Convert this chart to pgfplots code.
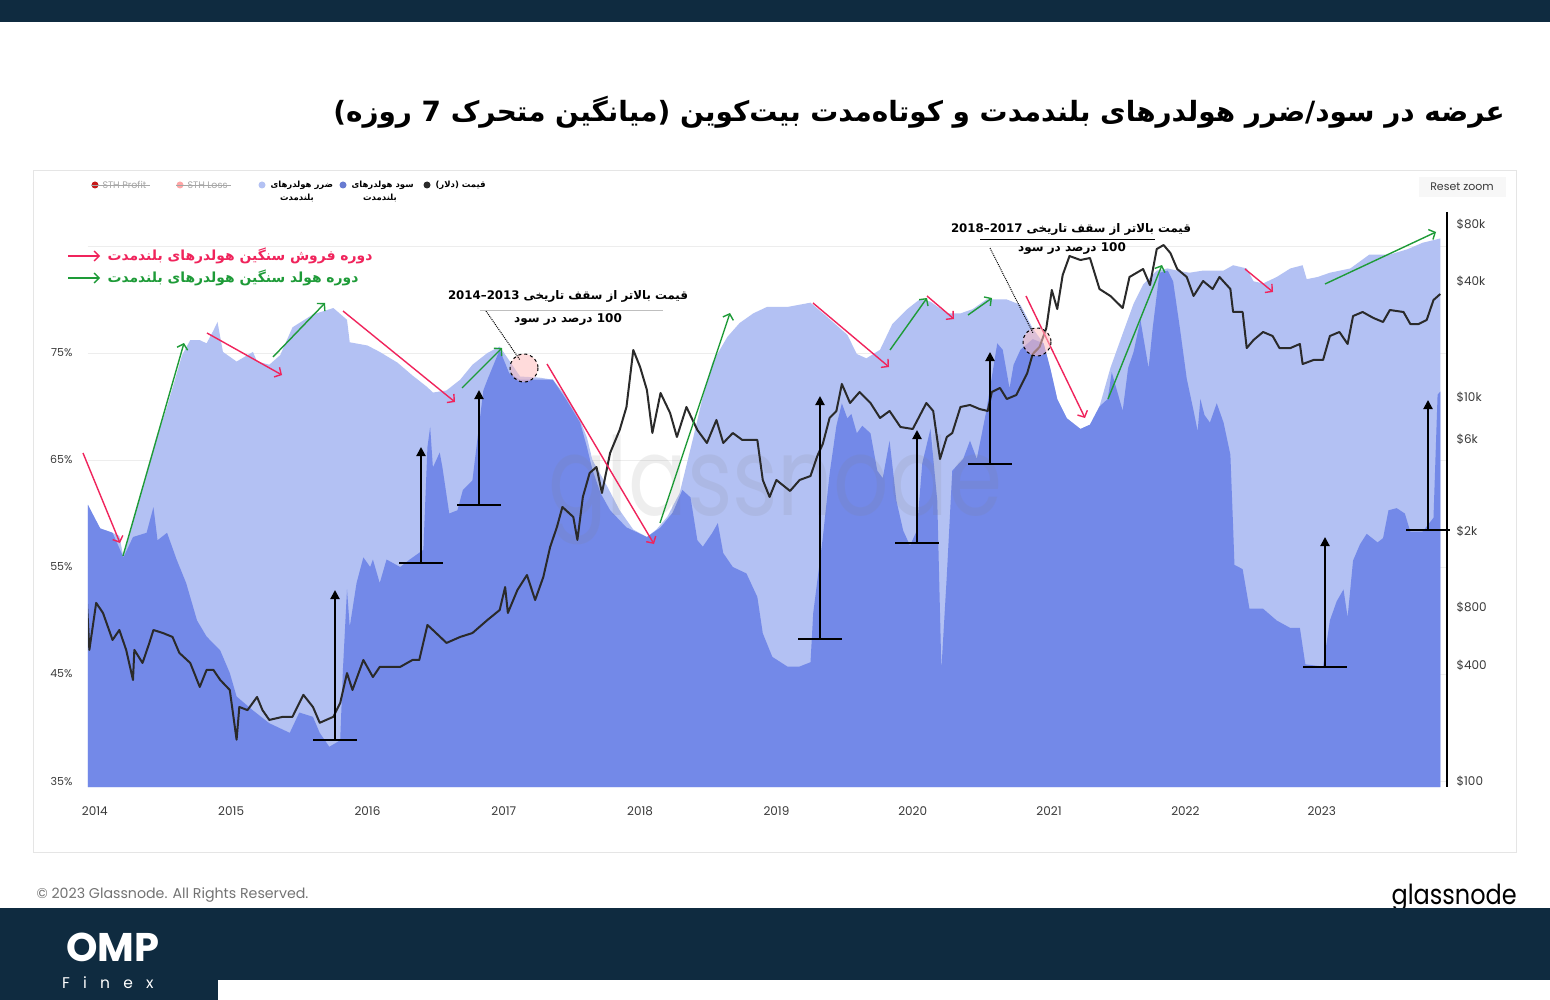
\documentclass[border=0pt]{standalone}
\usepackage{fontspec}
\usepackage{pgfplots}
\usepackage{pgfplotstable}
\pgfplotsset{compat=1.18}
\usetikzlibrary{arrows.meta}
\TeXXeTstate=1
\setmainfont{Poppins}
\newfontfamily\fa[Script=Arabic]{DejaVu Sans}
\newfontfamily\spaced[LetterSpace=85]{Poppins}
\newcommand\RL[1]{{\fa\beginR #1\endR}}

\definecolor{navy}{HTML}{0F2B40}
\definecolor{lthloss}{HTML}{B3C1F3}
\definecolor{lthprofit}{HTML}{7389E8}
\definecolor{pricecol}{HTML}{2A2A2A}
\definecolor{redarr}{HTML}{F0245C}
\definecolor{greenarr}{HTML}{1E9B38}
\definecolor{tick}{HTML}{3A3A3A}

% total LTH supply (loss + profit), percent
\pgfplotstableread{
year pct
2013.95 60.8
2014.00 59.4
2014.04 58.6
2014.11 58.3
2014.18 57.9
2014.21 55.9
2014.29 59.8
2014.38 63.6
2014.45 66.9
2014.53 70.0
2014.59 72.6
2014.64 74.8
2014.70 76.2
2014.77 76.2
2014.82 75.9
2014.87 77.1
2014.90 77.9
2014.94 75.1
2015.04 74.2
2015.12 74.8
2015.16 75.1
2015.19 74.2
2015.28 73.9
2015.36 74.8
2015.45 77.4
2015.60 78.6
2015.75 79.2
2015.85 78.1
2015.87 76.0
2016.00 75.7
2016.09 75.1
2016.22 74.1
2016.33 72.9
2016.44 71.8
2016.48 71.3
2016.58 71.5
2016.68 72.5
2016.77 73.9
2016.88 75.0
2016.97 75.6
2017.04 74.3
2017.12 72.8
2017.26 72.7
2017.36 72.5
2017.46 70.9
2017.56 68.7
2017.61 67.1
2017.65 65.0
2017.76 62.5
2017.85 60.3
2017.95 58.5
2018.05 57.8
2018.12 58.5
2018.20 59.7
2018.29 61.9
2018.39 67.1
2018.46 70.9
2018.53 74.1
2018.64 76.5
2018.73 77.8
2018.83 78.7
2018.93 79.3
2019.08 79.3
2019.25 79.7
2019.37 78.4
2019.52 76.7
2019.59 74.9
2019.66 74.5
2019.76 75.3
2019.85 77.7
2019.96 79.1
2020.05 80.0
2020.13 79.8
2020.25 78.7
2020.35 78.7
2020.44 79.1
2020.54 80.0
2020.69 80.0
2020.79 79.5
2020.88 77.3
2020.96 75.9
2021.01 73.5
2021.06 70.7
2021.13 68.9
2021.23 67.9
2021.30 68.3
2021.37 70.0
2021.45 73.6
2021.54 76.8
2021.62 79.6
2021.69 81.4
2021.79 82.7
2021.87 82.9
2021.94 82.7
2022.03 82.5
2022.13 82.7
2022.28 82.7
2022.35 83.2
2022.45 82.9
2022.50 81.7
2022.57 81.5
2022.67 82.1
2022.77 82.9
2022.86 83.2
2022.89 81.9
2022.97 82.1
2023.06 82.5
2023.21 82.9
2023.35 84.2
2023.50 84.2
2023.63 84.7
2023.74 85.3
2023.87 85.7
}\ltotal

% LTH supply in profit, percent
\pgfplotstableread{
year pct
2013.95 60.8
2014.04 58.6
2014.13 58.2
2014.21 55.9
2014.28 57.8
2014.38 58.2
2014.43 60.6
2014.46 57.5
2014.53 58.2
2014.60 55.7
2014.67 53.5
2014.75 50.0
2014.82 48.5
2014.92 47.2
2014.99 45.1
2015.04 42.9
2015.16 41.6
2015.28 40.4
2015.43 39.5
2015.50 41.4
2015.60 41.0
2015.65 39.5
2015.72 38.2
2015.80 38.8
2015.82 45.4
2015.85 52.9
2015.87 49.4
2015.92 53.5
2015.97 55.9
2016.02 55.0
2016.04 55.7
2016.09 53.5
2016.14 55.7
2016.24 55.0
2016.31 55.7
2016.41 56.6
2016.44 66.2
2016.46 68.1
2016.48 64.3
2016.53 65.7
2016.55 64.3
2016.60 60.0
2016.66 60.3
2016.70 62.2
2016.77 63.1
2016.85 71.5
2016.88 72.5
2016.97 75.3
2017.04 73.1
2017.12 72.5
2017.36 72.5
2017.46 70.6
2017.56 68.5
2017.61 66.2
2017.65 64.1
2017.71 61.9
2017.78 60.3
2017.90 58.7
2018.05 57.8
2018.15 58.7
2018.24 60.1
2018.31 62.2
2018.37 61.5
2018.42 57.5
2018.46 56.9
2018.53 58.2
2018.57 59.1
2018.61 56.3
2018.68 55.0
2018.78 54.4
2018.86 52.2
2018.90 48.8
2018.97 46.6
2019.08 45.7
2019.17 45.7
2019.25 46.1
2019.27 50.7
2019.34 57.7
2019.39 63.7
2019.44 68.2
2019.48 70.3
2019.52 68.9
2019.55 69.3
2019.59 67.5
2019.63 68.2
2019.69 67.5
2019.74 64.0
2019.78 63.3
2019.83 66.8
2019.88 61.2
2019.93 58.4
2019.98 57.0
2020.03 58.4
2020.07 64.7
2020.13 67.9
2020.18 61.2
2020.21 45.4
2020.25 54.2
2020.29 64.0
2020.37 65.1
2020.42 66.8
2020.47 65.1
2020.54 69.6
2020.62 75.9
2020.66 75.3
2020.71 71.7
2020.74 73.9
2020.79 75.3
2020.88 76.3
2020.96 75.9
2021.01 73.5
2021.06 70.7
2021.13 68.9
2021.23 67.9
2021.30 68.3
2021.37 70.0
2021.43 70.7
2021.46 73.2
2021.50 71.4
2021.54 69.6
2021.58 73.6
2021.62 75.1
2021.67 78.1
2021.69 76.6
2021.73 73.6
2021.76 77.3
2021.81 82.5
2021.87 82.7
2021.91 81.7
2021.96 77.3
2022.01 72.6
2022.06 69.6
2022.09 67.7
2022.11 70.7
2022.14 69.2
2022.18 68.5
2022.23 70.3
2022.28 68.5
2022.33 65.5
2022.35 58.8
2022.36 55.2
2022.42 54.8
2022.47 51.1
2022.57 51.1
2022.67 50.0
2022.77 49.3
2022.84 49.3
2022.88 45.9
2023.01 45.7
2023.06 50.0
2023.11 51.8
2023.16 52.9
2023.19 50.3
2023.23 55.6
2023.28 57.1
2023.33 58.1
2023.41 57.3
2023.45 57.7
2023.49 60.3
2023.55 60.5
2023.61 60.0
2023.65 58.3
2023.74 58.3
2023.82 59.6
2023.85 71.1
2023.87 71.4
}\lprofit

% BTC price, USD
\pgfplotstableread{
year usd
2013.94 910
2013.96 482
2014.01 847
2014.06 751
2014.13 543
2014.18 612
2014.23 482
2014.28 336
2014.29 482
2014.35 412
2014.40 524
2014.43 612
2014.50 590
2014.57 563
2014.62 465
2014.70 412
2014.77 309
2014.82 379
2014.87 379
2014.92 336
2014.99 298
2015.04 164
2015.06 243
2015.12 234
2015.19 274
2015.23 234
2015.28 208
2015.38 216
2015.45 216
2015.53 281
2015.60 243
2015.65 201
2015.75 216
2015.80 255
2015.85 365
2015.89 298
2015.97 427
2016.04 348
2016.09 393
2016.16 393
2016.24 393
2016.33 427
2016.38 427
2016.44 650
2016.48 612
2016.58 524
2016.68 563
2016.77 590
2016.88 690
2016.97 778
2017.01 1025
2017.03 751
2017.10 989
2017.17 1184
2017.23 877
2017.29 1156
2017.34 1657
2017.39 2107
2017.43 2678
2017.51 2375
2017.54 1803
2017.58 3020
2017.63 4027
2017.68 4327
2017.72 3168
2017.78 5120
2017.85 6746
2017.90 8891
2017.95 17620
2018.00 14370
2018.05 10900
2018.09 6507
2018.15 10520
2018.22 8274
2018.27 6203
2018.34 8891
2018.42 6746
2018.49 5772
2018.56 7607
2018.61 5772
2018.68 6507
2018.75 5984
2018.86 5984
2018.90 3702
2018.95 3020
2019.00 3702
2019.10 3245
2019.17 3702
2019.25 3885
2019.30 4939
2019.34 5703
2019.39 7792
2019.44 8475
2019.48 11720
2019.54 9328
2019.61 10640
2019.69 9328
2019.76 7792
2019.83 8475
2019.91 6993
2020.00 6828
2020.10 9328
2020.15 8475
2020.20 4764
2020.25 6203
2020.29 6507
2020.35 8891
2020.42 9107
2020.49 8679
2020.55 8475
2020.58 10640
2020.64 11170
2020.69 9786
2020.76 10270
2020.84 13370
2020.88 16800
2020.93 18260
2020.98 22940
2021.02 36190
2021.06 28810
2021.10 43340
2021.15 54420
2021.23 51880
2021.30 53140
2021.37 36630
2021.45 33690
2021.54 29160
2021.59 42310
2021.69 46570
2021.74 38430
2021.79 59200
2021.84 62100
2021.89 56420
2021.94 46570
2022.01 42310
2022.06 33690
2022.13 40320
2022.20 36630
2022.25 42310
2022.33 36630
2022.35 27800
2022.42 27800
2022.45 18040
2022.50 19870
2022.57 21870
2022.64 20840
2022.69 18040
2022.77 18040
2022.84 18940
2022.86 14890
2022.94 15630
2023.01 15630
2023.06 20840
2023.13 21870
2023.19 18940
2023.23 26490
2023.30 27800
2023.38 25860
2023.45 24660
2023.50 28470
2023.60 27800
2023.65 24070
2023.71 24070
2023.77 25250
2023.82 32100
2023.87 34500
}\btcprice

\begin{document}
\begin{tikzpicture}
% page, header bar, panel
\begin{scope}[x=1pt,y=-1pt]
\fill[white] (0,0) rectangle (1550,1000);
\fill[navy] (0,0) rectangle (1550,22);
\draw[black!10] (33.5,170.5) rectangle (1516.5,852.5);
\node[anchor=east,inner sep=0pt,font=\fontsize{27.9}{31}\selectfont\bfseries] at (1505,112)
  {\RL{عرضه در سود/ضرر هولدرهای بلندمدت و کوتاه‌مدت بیت‌کوین (میانگین متحرک 7 روزه)}};
\end{scope}

% supply areas
\begin{axis}[
  at={(88pt,-787pt)}, anchor=south west,
  scale only axis, width=1359pt, height=582pt,
  xmin=2013.95, xmax=2023.92, ymin=34.44, ymax=88.83,
  axis line style={draw=none}, major tick style={draw=none},
  xtick={2014,2015,2016,2017,2018,2019,2020,2021,2022,2023},
  xticklabels={2014,2015,2016,2017,2018,2019,2020,2021,2022,2023},
  ytick={35,45,55,65,75,85},
  yticklabels={35\%,45\%,55\%,65\%,75\%,},
  ymajorgrids, major grid style={black!7},
  xticklabel style={font=\fontsize{12}{14}\selectfont, text=tick, yshift=-16pt},
  yticklabel style={font=\fontsize{11}{13}\selectfont, text=tick, xshift=-12pt},
]
\addplot[fill=lthloss, draw=none] table[x=year,y=pct] {\ltotal} \closedcycle;
\addplot[fill=lthprofit, draw=none] table[x=year,y=pct] {\lprofit} \closedcycle;
\end{axis}

% watermark
\begin{scope}[x=1pt,y=-1pt]
\node[text=gray, opacity=0.13, font=\fontsize{87}{90}\selectfont, yscale=1.25] at (775,490) {glassnode};
\end{scope}

% price line
\begin{axis}[
  at={(88pt,-787pt)}, anchor=south west,
  scale only axis, width=1359pt, height=582pt,
  xmin=2013.95, xmax=2023.92, ymode=log, ymin=93, ymax=100400,
  axis line style={draw=none}, major tick style={draw=none}, minor tick style={draw=none},
  xtick=\empty, yticklabel pos=right,
  ytick={100,400,800,2000,6000,10000,40000,80000},
  yticklabels={\$100,\$400,\$800,\$2k,\$6k,\$10k,\$40k,\$80k},
  yticklabel style={font=\fontsize{12}{14}\selectfont, text=tick, xshift=6pt},
]
\addplot[pricecol, line width=2pt, line join=round] table[x=year,y=usd] {\btcprice};
\end{axis}

\begin{scope}[x=1pt,y=-1pt]
% right price axis line
\draw[black, line width=2pt] (1447,212) -- (1447,787);

% legend
\fill[red!75!black!90] (95,185) circle (3.5);
\node[anchor=west, text=black!35, font=\fontsize{9.5}{11}\selectfont] (p) at (99,185) {STH Profit};
\draw[black!35] (91,185) -- (p.east);
\fill[red!35] (180,185) circle (3.5);
\node[anchor=west, text=black!35, font=\fontsize{9.5}{11}\selectfont] (l) at (184,185) {STH Loss};
\draw[black!35] (176,185) -- (l.east);
\fill[lthloss] (262,185) circle (3.5);
\node[anchor=west, font=\fontsize{8.5}{10}\selectfont\bfseries] at (267,185) {\RL{ضرر هولدرهای}};
\node[font=\fontsize{8.5}{10}\selectfont\bfseries] at (297,198) {\RL{بلندمدت}};
\fill[lthprofit!90!black] (343,185) circle (3.5);
\node[anchor=west, font=\fontsize{8.5}{10}\selectfont\bfseries] at (348,185) {\RL{سود هولدرهای}};
\node[font=\fontsize{8.5}{10}\selectfont\bfseries] at (380,198) {\RL{بلندمدت}};
\fill[pricecol] (427,185) circle (3.5);
\node[anchor=west, font=\fontsize{8.5}{10}\selectfont\bfseries] at (432,185) {\RL{قیمت (دلار)}};

% reset zoom
\fill[black!3] (1419,177) rectangle (1506,197);
\node[text=tick, font=\fontsize{11}{13}\selectfont] at (1462,187) {Reset zoom};

% arrow key
\draw[redarr, line width=1.3pt, -{Straight Barb[length=5pt,width=10pt]}] (68,256) -- (100,256);
\node[anchor=west, text=redarr, font=\fontsize{13.9}{15}\selectfont\bfseries] at (104,256) {\RL{دوره فروش سنگین هولدرهای بلندمدت}};
\draw[greenarr, line width=1.3pt, -{Straight Barb[length=5pt,width=10pt]}] (68,278) -- (100,278);
\node[anchor=west, text=greenarr, font=\fontsize{13.9}{15}\selectfont\bfseries] at (104,278) {\RL{دوره هولد سنگین هولدرهای بلندمدت}};

% selling periods
\begin{scope}[redarr, line width=1.4pt, -{Straight Barb[length=5pt,width=11pt]}]
\draw (83,453) -- (120,543);
\draw (207,333) -- (282,375);
\draw (343,311) -- (455,402);
\draw (547,364) -- (654,544);
\draw (813,303) -- (889,367);
\draw (927,296) -- (954,319);
\draw (1026,296) -- (1085,418);
\draw (1245,269) -- (1273,292);
\end{scope}
% holding periods
\begin{scope}[greenarr, line width=1.4pt, -{Straight Barb[length=5pt,width=11pt]}]
\draw (123,556) -- (184,343);
\draw (273,357) -- (325,303);
\draw (462,388) -- (502,348);
\draw (660,523) -- (730,313);
\draw (890,350) -- (927,298);
\draw (968,315) -- (992,298);
\draw (1108,399) -- (1162,265);
\draw (1325,284) -- (1436,232);
\end{scope}

% profit jumps
\begin{scope}[black, line width=2pt]
\foreach \x/\b/\t in {335/740/590, 421/563/447, 479/505/390, 820/639/396, 917/543/430, 990/464/352, 1325/667/537, 1428/530/400}{
  \draw[-{Triangle[length=9pt,width=9pt]}] (\x,\b) -- (\x,\t);
  \draw (\x-22,\b) -- (\x+22,\b);
}
\end{scope}

% ATH notes
\fill[pink, opacity=0.55] (524,368) circle (14);
\draw[black, dashed, line width=1pt] (524,368) circle (14);
\draw[black, densely dotted, line width=1pt] (486,311) -- (520,360);
\draw[black!25] (480,310) -- (663,310);
\node[font=\fontsize{11.8}{14}\selectfont\bfseries] at (568,296) {\RL{قیمت بالاتر از سقف تاریخی 2013–2014}};
\node[font=\fontsize{12}{14}\selectfont\bfseries] at (568,320) {\RL{100 درصد در سود}};

\fill[pink, opacity=0.55] (1037,342) circle (14);
\draw[black, dashed, line width=1pt] (1037,342) circle (14);
\draw[black, densely dotted, line width=1pt] (990,248) -- (1033,333);
\draw[black, line width=0.8pt] (980,239) -- (1155,239);
\node[font=\fontsize{11.8}{14}\selectfont\bfseries] at (1071,229) {\RL{قیمت بالاتر از سقف تاریخی 2017–2018}};
\node[font=\fontsize{12}{14}\selectfont\bfseries] at (1072,249) {\RL{100 درصد در سود}};

% footer
\node[anchor=west, text=black!55, font=\fontsize{14.2}{16}\selectfont] at (33,895) {\textcopyright{} 2023 Glassnode. All Rights Reserved.};
\node[anchor=east, font=\fontsize{24}{26}\selectfont, yscale=1.15, inner sep=0pt] at (1517,898) {glassnode};
\fill[navy] (0,908) rectangle (1550,980);
\fill[navy] (0,980) rectangle (218,1000);
\node[text=white, font=\fontsize{40}{42}\selectfont\bfseries, inner sep=0pt, text depth=0pt, anchor=base] at (113,961) {OMP};
\node[text=white, font=\fontsize{15.5}{17}\spaced, inner sep=0pt, text depth=0pt, anchor=base west] at (62,988) {Finex};
\end{scope}
\end{tikzpicture}
\end{document}
